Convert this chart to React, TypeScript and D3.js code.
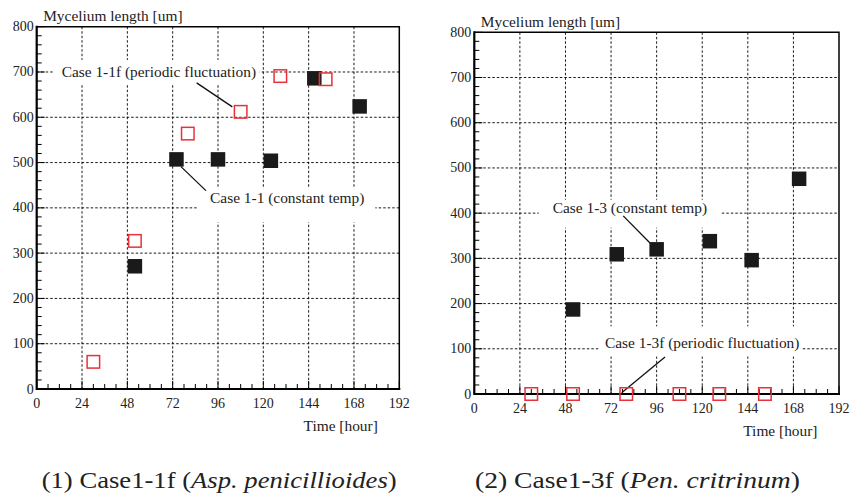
import React from "react";
import * as d3 from "d3";

// hours / um
const timeTicks = [0, 24, 48, 72, 96, 120, 144, 168, 192];
const lengthTicks = [0, 100, 200, 300, 400, 500, 600, 700, 800];

const case11Time = [52, 74, 96, 124, 147, 171];
const case11Length = [271, 507, 507, 504, 686, 624];
const case11fTime = [30, 52, 80, 108, 129, 153];
const case11fLength = [60, 327, 564, 612, 691, 684];

const case13Time = [52, 75, 96, 124, 146, 171];
const case13Length = [187, 309, 320, 338, 296, 476];
const case13fTime = [30, 52, 80, 108, 129, 153];
const case13fLength = [0, 0, 0, 0, 0, 0];

const FONT = "Liberation Serif";
const NOTE_SIZE = 15.4;

interface Note {
  text: string;
  at: [number, number]; // text start, data coords
  from: [number, number];
  to: [number, number];
  pad: [number, number, number, number]; // left, right, above baseline, below baseline
}

interface PanelCfg {
  left: number;
  right: number;
  top: number;
  bottom: number;
  filled: { t: number[]; v: number[] };
  open: { t: number[]; v: number[] };
  notes: Note[];
}

const panels: PanelCfg[] = [
  {
    left: 36.7, right: 399.3, top: 26.7, bottom: 389,
    filled: { t: case11Time, v: case11Length },
    open: { t: case11fTime, v: case11fLength },
    notes: [
      { text: "Case 1-1f (periodic fluctuation)", at: [13.2, 689], from: [84.7, 676], to: [103.6, 623], pad: [8.5, 3.5, 17, 8] },
      { text: "Case 1-1 (constant temp)", at: [91.8, 410], from: [76.4, 491], to: [89.6, 438], pad: [13, 11, 15, 19] },
    ],
  },
  {
    left: 474.3, right: 839, top: 32.3, bottom: 394,
    filled: { t: case13Time, v: case13Length },
    open: { t: case13fTime, v: case13fLength },
    notes: [
      { text: "Case 1-3 (constant temp)", at: [41.3, 401], from: [78.4, 394], to: [92.5, 334], pad: [14, 14, 13, 15] },
      { text: "Case 1-3f (periodic fluctuation)", at: [68.8, 101], from: [100.4, 82], to: [77.6, 3], pad: [5, 2, 22, 8] },
    ],
  },
];

let ctx: CanvasRenderingContext2D | null = null;
function textWidth(s: string, size: number) {
  if (!ctx) ctx = document.createElement("canvas").getContext("2d");
  if (!ctx) return s.length * size * 0.45;
  ctx.font = `${size}px ${FONT}`;
  return ctx.measureText(s).width;
}

const dash = { stroke: "#000", strokeWidth: 0.9, strokeDasharray: "2.5,2" };

function Panel({ p }: { p: PanelCfg }) {
  const x = d3.scaleLinear().domain([0, 192]).range([p.left, p.right]);
  const y = d3.scaleLinear().domain([0, 800]).range([p.bottom, p.top]);
  const minorX = d3.range(0, 193, 6);
  const minorY = d3.range(0, 801, 20);
  const s = 14.5;
  const so = 12.5;

  return (
    <g>
      {timeTicks.slice(1, -1).map((d) => (
        <line key={"gx" + d} x1={x(d)} x2={x(d)} y1={p.top} y2={p.bottom} style={dash} />
      ))}
      {lengthTicks.slice(1, -1).map((d) => (
        <line key={"gy" + d} x1={p.left} x2={p.right} y1={y(d)} y2={y(d)} style={dash} />
      ))}

      {p.notes.map((n) => (
        <rect key={"bx" + n.text} x={x(n.at[0]) - n.pad[0]} y={y(n.at[1]) - n.pad[2]}
          width={textWidth(n.text, NOTE_SIZE) + n.pad[0] + n.pad[1]} height={n.pad[2] + n.pad[3]} fill="#fff" />
      ))}

      {minorX.map((d) => (
        <line key={"tx" + d} x1={x(d)} x2={x(d)} y1={p.bottom}
          y2={p.bottom - (d % 24 === 0 ? 8 : 5)} stroke="#000" strokeWidth={1} />
      ))}
      {minorY.map((d) => (
        <line key={"ty" + d} x1={p.left} x2={p.left + (d % 100 === 0 ? 8 : 5)}
          y1={y(d)} y2={y(d)} stroke="#000" strokeWidth={1} />
      ))}

      <path d={`M${p.left},${p.top}H${p.right}V${p.bottom}`} fill="none" stroke="#000" strokeWidth={1.5} />
      <path d={`M${p.left},${p.top - 1}V${p.bottom}H${p.right + 1}`} fill="none" stroke="#000" strokeWidth={2.2} />

      {timeTicks.map((d) => (
        <text key={"lx" + d} x={x(d)} y={p.bottom + 19} textAnchor="middle"
          fontFamily={FONT} fontSize={14} fill="#222">{d}</text>
      ))}
      {lengthTicks.map((d) => (
        <text key={"ly" + d} x={p.left - 3} y={y(d) + 4.5} textAnchor="end"
          fontFamily={FONT} fontSize={14} fill="#222">{d}</text>
      ))}

      <text x={p.left + 6.5} y={p.top - 5.5} fontFamily={FONT} fontSize={NOTE_SIZE} fill="#222">
        Mycelium length [um]
      </text>
      <text x={p.right - 21.5} y={p.bottom + 41.7} textAnchor="end" fontFamily={FONT} fontSize={NOTE_SIZE} fill="#222">
        Time [hour]
      </text>

      {p.notes.map((n) => (
        <line key={"ld" + n.text} x1={x(n.from[0])} y1={y(n.from[1])} x2={x(n.to[0])} y2={y(n.to[1])}
          stroke="#111" strokeWidth={1.3} />
      ))}

      {p.filled.t.map((d, i) => (
        <rect key={"mf" + i} x={x(d) - s / 2} y={y(p.filled.v[i]) - s / 2} width={s} height={s} fill="#1a1a1a" />
      ))}
      {p.open.t.map((d, i) => (
        <rect key={"mo" + i} x={x(d) - so / 2} y={y(p.open.v[i]) - so / 2} width={so} height={so}
          fill="none" stroke="#e8313a" strokeWidth={1.5} />
      ))}

      {p.notes.map((n) => (
        <text key={"nt" + n.text} x={x(n.at[0])} y={y(n.at[1])} fontFamily={FONT} fontSize={NOTE_SIZE} fill="#222">
          {n.text}
        </text>
      ))}
    </g>
  );
}

function Caption({ x, w, num, caseName, species }: { x: number; w: number; num: string; caseName: string; species: string }) {
  return (
    <text x={x} y={488} fontFamily={FONT} fontSize={23} fill="#222" textLength={w} lengthAdjust="spacingAndGlyphs">
      <tspan>{`(${num}) ${caseName} (`}</tspan>
      <tspan fontStyle="italic">{species}</tspan>
      <tspan>)</tspan>
    </text>
  );
}

export default function App() {
  return (
    <svg width={850} height={497} style={{ position: "absolute", left: 0, top: 0, background: "#fff" }}>
      {panels.map((p, i) => <Panel key={i} p={p} />)}
      <Caption x={41.7} w={355} num="1" caseName="Case1-1f" species="Asp. penicillioides" />
      <Caption x={475} w={325} num="2" caseName="Case1-3f" species="Pen. critrinum" />
    </svg>
  );
}
